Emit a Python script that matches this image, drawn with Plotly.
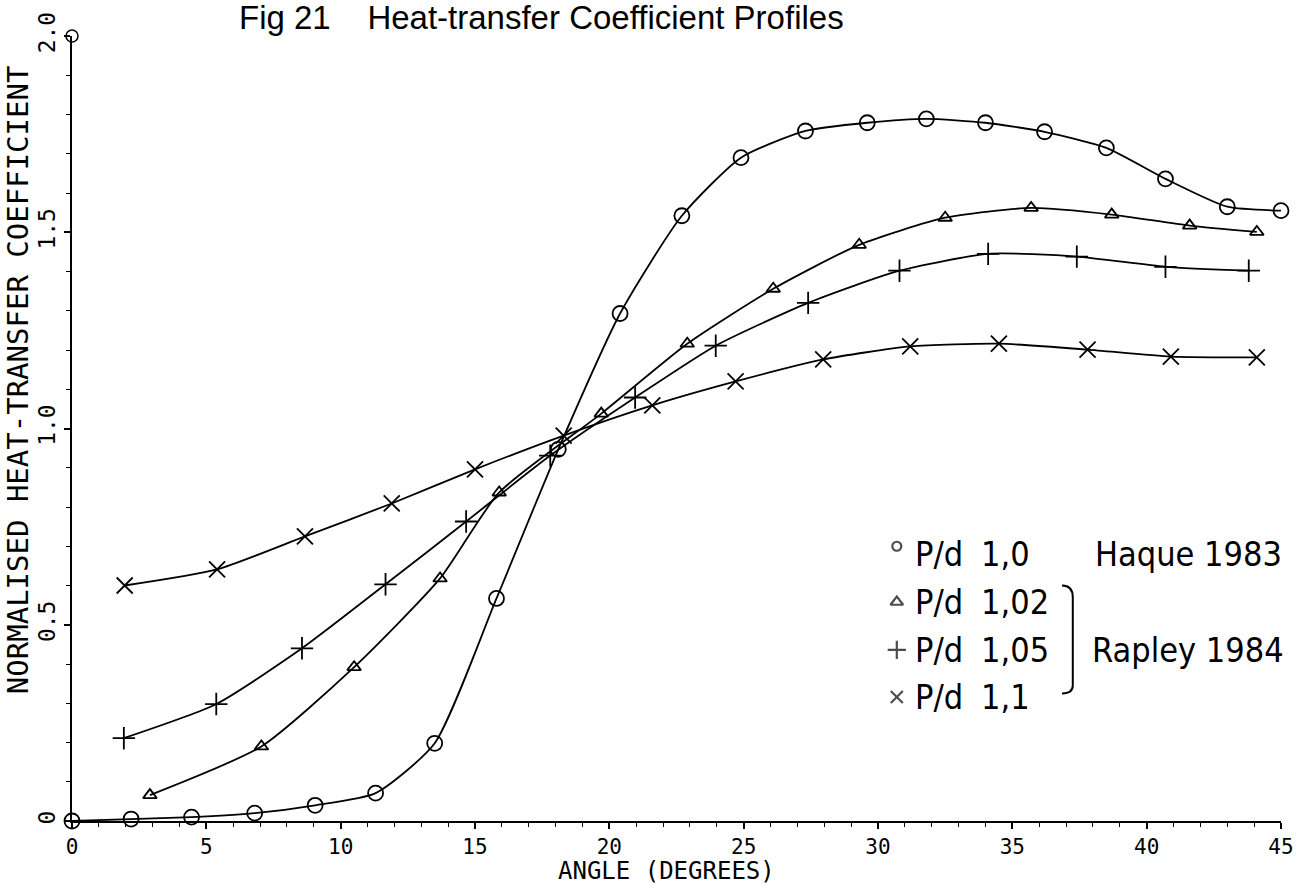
import plotly.graph_objects as go

# ---- data ----
angle_10 = [0.0, 2.2, 4.45, 6.8, 9.05, 11.3, 13.5, 15.8, 18.1, 20.4, 22.7, 24.9, 27.3, 29.6, 31.8, 34.0, 36.2, 38.5, 40.7, 43.0, 45.0]
htc_10 = [0.0, 0.005, 0.01, 0.02, 0.04, 0.071, 0.198, 0.567, 0.947, 1.293, 1.542, 1.69, 1.758, 1.779, 1.789, 1.779, 1.756, 1.715, 1.636, 1.565, 1.555]

angle_102 = [2.9, 7.05, 10.5, 13.7, 15.9, 19.7, 22.9, 26.1, 29.3, 32.5, 35.7, 38.7, 41.6, 44.1]
htc_102 = [0.066, 0.19, 0.392, 0.618, 0.837, 1.038, 1.216, 1.356, 1.468, 1.537, 1.562, 1.545, 1.517, 1.501]

angle_105 = [1.93, 5.37, 8.56, 11.67, 14.67, 17.8, 20.96, 23.96, 27.4, 30.8, 34.1, 37.4, 40.7, 43.8]
htc_105 = [0.211, 0.298, 0.44, 0.603, 0.763, 0.931, 1.079, 1.211, 1.32, 1.402, 1.445, 1.438, 1.412, 1.402]

angle_11 = [1.96, 5.4, 8.67, 11.9, 15.0, 18.3, 21.6, 24.7, 27.96, 31.2, 34.5, 37.8, 40.9, 44.1]
htc_11 = [0.600, 0.641, 0.725, 0.809, 0.896, 0.982, 1.059, 1.12, 1.176, 1.209, 1.216, 1.201, 1.183, 1.181]

# stray circle marker at top of the y axis
stray_x = [0.0]
stray_y = [2.0]

x_ticks = [0, 5, 10, 15, 20, 25, 30, 35, 40, 45]
y_tickvals = [0, 0.5, 1.0, 1.5, 2.0]
y_ticktext = ["0", "0.5", "1.0", "1.5", "2.0"]

legend_labels = ["P/d", "P/d", "P/d", "P/d"]
legend_values = ["1,0", "1,02", "1,05", "1,1"]
legend_symbols = ["circle-open", "triangle-up-open", "cross-thin-open", "x-thin-open"]
legend_sources = ["Haque 1983", "Rapley 1984"]

MONO = "DejaVu Sans Mono, Liberation Mono, monospace"
COND = "DejaVu Sans Condensed, Liberation Sans Narrow, DejaVu Sans, sans-serif"

fig = go.Figure()

def add_series(x, y, symbol, size):
    fig.add_trace(go.Scatter(
        x=x, y=y, mode="lines+markers",
        line=dict(color="black", width=1.8, shape="spline", smoothing=0.6),
        marker=dict(symbol=symbol, size=size, color="black",
                    line=dict(color="black", width=1.8)),
        cliponaxis=False, showlegend=False, hoverinfo="skip"))

add_series(angle_10, htc_10, "circle-open", 15)
add_series(angle_102, htc_102, "triangle-up-open", 12)
add_series(angle_105, htc_105, "cross-thin-open", 16)
add_series(angle_11, htc_11, "x-thin-open", 16)

fig.add_trace(go.Scatter(
    x=stray_x, y=stray_y, mode="markers",
    marker=dict(symbol="circle-open", size=12, color="black", line=dict(color="black", width=1.5)),
    cliponaxis=False, showlegend=False, hoverinfo="skip"))

# ---- legend drawn as text ----
row_y = [0.68, 0.558, 0.436, 0.316]
sym_x = 30.7
fig.add_trace(go.Scatter(
    x=[sym_x] * 4, y=[row_y[0] + 0.02, row_y[1], row_y[2], row_y[3]], mode="markers",
    marker=dict(symbol=legend_symbols, size=[9, 11, 13, 12], color="black",
                line=dict(color="black", width=2.2)),
    cliponaxis=False, showlegend=False, hoverinfo="skip"))

annotations = []
for i in range(4):
    annotations.append(dict(x=31.3, y=row_y[i], xref="x", yref="y", text=legend_labels[i],
                            showarrow=False, xanchor="left", yanchor="middle",
                            font=dict(family=COND, size=34, color="black")))
    annotations.append(dict(x=33.75, y=row_y[i], xref="x", yref="y", text=legend_values[i],
                            showarrow=False, xanchor="left", yanchor="middle",
                            font=dict(family=COND, size=34, color="black")))
annotations.append(dict(x=38.0, y=row_y[0], xref="x", yref="y", text=legend_sources[0],
                        showarrow=False, xanchor="left", yanchor="middle",
                        font=dict(family=COND, size=34, color="black")))
annotations.append(dict(x=37.9, y=row_y[2], xref="x", yref="y", text=legend_sources[1],
                        showarrow=False, xanchor="left", yanchor="middle",
                        font=dict(family=COND, size=34, color="black")))

# title & axis titles
annotations.append(dict(x=0.1366, y=1.024, xref="paper", yref="paper",
                        text="Fig 21    Heat-transfer Coefficient Profiles",
                        showarrow=False, xanchor="left", yanchor="middle",
                        font=dict(family="Liberation Sans, Arial, sans-serif", size=33, color="black")))
annotations.append(dict(x=0.492, y=-0.0635, xref="paper", yref="paper",
                        text="ANGLE (DEGREES)", showarrow=False, xanchor="center", yanchor="middle",
                        font=dict(family=MONO, size=24, color="black")))
annotations.append(dict(x=-0.0444, y=0.562, xref="paper", yref="paper",
                        text="NORMALISED HEAT-TRANSFER COEFFICIENT", textangle=-90,
                        showarrow=False, xanchor="center", yanchor="middle",
                        font=dict(family=MONO, size=29, color="black")))

# bracket
fig.add_shape(type="path",
              path="M 36.85 0.60 Q 37.25 0.60 37.25 0.57 L 37.25 0.345 Q 37.25 0.325 36.85 0.325",
              xref="x", yref="y", line=dict(color="black", width=2))

fig.update_layout(
    width=1306, height=885,
    margin=dict(l=72, r=19, t=35, b=64),
    paper_bgcolor="white", plot_bgcolor="white",
    annotations=annotations,
    xaxis=dict(range=[0, 45], tickvals=x_ticks, showgrid=False, zeroline=False,
               showline=True, linecolor="black", linewidth=2,
               ticks="outside", ticklen=6, tickwidth=1.5, tickcolor="black",
               minor=dict(dtick=1, ticks="outside", ticklen=4, tickwidth=1.2, tickcolor="black"),
               tickfont=dict(family=MONO, size=21, color="black")),
    yaxis=dict(range=[0, 2.0], tickvals=y_tickvals, ticktext=y_ticktext, tickangle=-90,
               showgrid=False, zeroline=False,
               showline=True, linecolor="black", linewidth=2,
               ticks="outside", ticklen=6, tickwidth=1.5, tickcolor="black",
               minor=dict(dtick=0.1, ticks="outside", ticklen=4, tickwidth=1.2, tickcolor="black"),
               tickfont=dict(family=MONO, size=23, color="black")),
)

fig.write_html("out.html")
